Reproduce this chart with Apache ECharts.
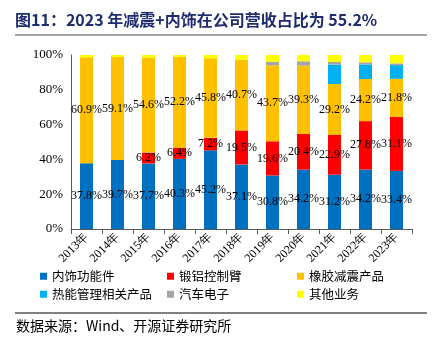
<!DOCTYPE html>
<html><head><meta charset="utf-8">
<script src="https://cdn.jsdelivr.net/npm/echarts@6/dist/echarts.min.js"></script>
<style>html,body{margin:0;padding:0;background:#fff}#c{width:441px;height:338px}</style>
</head><body><div id="c"></div>
<script>
const categories = ['2013年','2014年','2015年','2016年','2017年','2018年','2019年','2020年','2021年','2022年','2023年'];
const interior = [37.8,39.7,37.7,40.3,45.2,37.1,30.8,34.2,31.2,34.2,33.4];
const controlArm = [0,0,6.2,6.4,7.2,19.5,19.6,20.4,22.9,27.8,31.1];
const rubber = [60.9,59.1,54.6,52.2,45.8,40.7,43.7,39.3,29.2,24.2,21.8];
const thermal = [0,0,0,0,0,0,0,0,11.2,8.4,7.9];
const electronics = [0,0,0,0,0,0,2.0,2.5,1.5,1.2,1.0];
const others = [1.3,1.2,1.5,1.1,1.8,2.7,3.9,3.6,4.0,4.2,4.8];
const yTicks = [0,20,40,60,80,100];

const names = ['内饰功能件','锻铝控制臂','橡胶减震产品','热能管理相关产品','汽车电子','其他业务'];
const colors = ['#0070C0','#FF0000','#FFC000','#00B0F0','#A5A5A5','#FFFF00'];
const datas = [interior, controlArm, rubber, thermal, electronics, others];
const labeled = [true,true,true,false,false,false];

const chart = echarts.init(document.getElementById('c'));
const serif = 'Liberation Serif';
const cjk = 'Noto Sans CJK SC';
const legendPos = [[40,270],[167,270],[297,270],[40,288],[167,288],[297,288]];
chart.setOption({
  animation:false,
  title:{text:'图11：2023 年减震+内饰在公司营收占比为 55.2%',left:15,top:12,padding:0,
    textStyle:{fontFamily:cjk,fontSize:16,fontWeight:'bold',color:'#1F2D6E'}},
  graphic:[
    {type:'line',shape:{x1:15,y1:35,x2:427,y2:35},style:{stroke:'#888',lineWidth:1.5}},
    {type:'line',shape:{x1:15,y1:313,x2:427,y2:313},style:{stroke:'#000',lineWidth:1}},
    {type:'text',left:16,top:319,style:{text:'数据来源：Wind、开源证券研究所',font:'14px "Noto Sans CJK SC"',fill:'#000'}}
  ],
  legend: names.map((n,i)=>({data:[n],left:legendPos[i][0],top:legendPos[i][1],padding:0,itemWidth:7,itemHeight:7,icon:'rect',
    itemGap:5,textStyle:{fontFamily:cjk,fontSize:12.5,color:'#000'}})),
  grid:{left:71,right:29,top:55,bottom:109},
  xAxis:{type:'category',data:categories,
    axisLine:{lineStyle:{color:'#595959'}},
    axisTick:{show:true,lineStyle:{color:'#595959'}},
    axisLabel:{rotate:45,fontFamily:serif,fontSize:12,color:'#000',margin:6}},
  yAxis:{type:'value',min:0,max:100,interval:20,
    axisLine:{show:true,lineStyle:{color:'#595959'}},
    axisTick:{show:false},splitLine:{show:false},
    axisLabel:{formatter:v=>v+'%',fontFamily:serif,fontSize:13,color:'#000',margin:8}},
  series: names.map((n,i)=>({name:n,type:'bar',stack:'a',barWidth:13,
    itemStyle:{color:colors[i]},
    data:datas[i],
    label:{show:labeled[i],position:'inside',color:'#000',fontFamily:serif,fontSize:12,
      formatter:p=>p.value>0?p.value.toFixed(1)+'%':''}
  }))
});
</script></body></html>
